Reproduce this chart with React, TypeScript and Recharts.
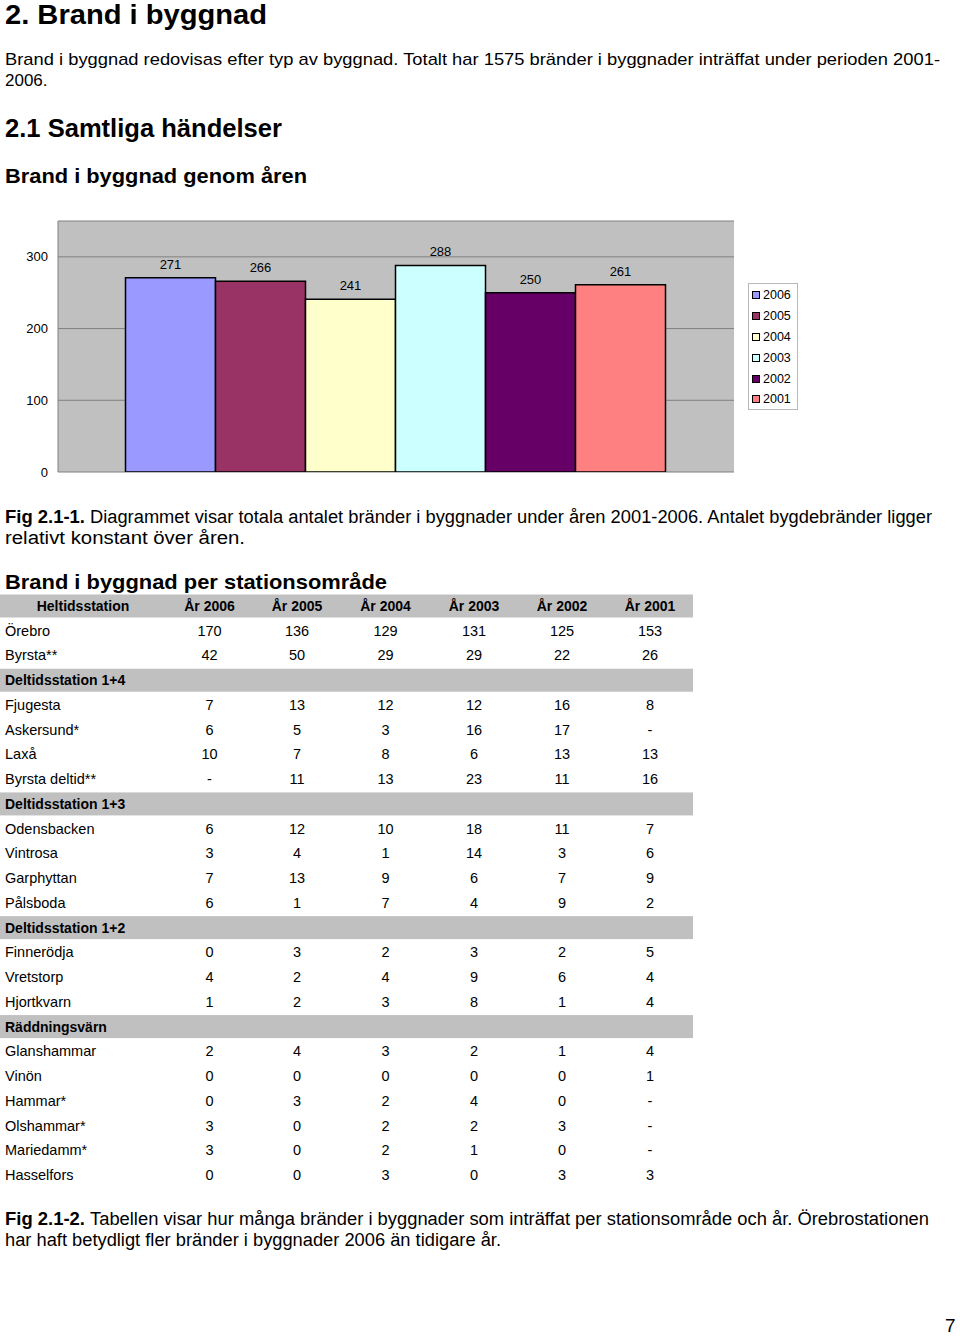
import React from 'react';
import { BarChart, Bar, XAxis, YAxis, CartesianGrid, LabelList, Legend } from 'recharts';

// ---------- chart data ----------
const years = ['2006', '2005', '2004', '2003', '2002', '2001'];
const totals = [271, 266, 241, 288, 250, 261];
const yTicks = [0, 100, 200, 300];
const yMax = 350;
const barColors = ['#9999ff', '#993366', '#ffffcc', '#ccffff', '#660066', '#ff8080'];

// ---------- table data ----------
const tableHeaders = ['Heltidsstation', 'År 2006', 'År 2005', 'År 2004', 'År 2003', 'År 2002', 'År 2001'];
const heltidStations = ['Örebro', 'Byrsta**'];
const heltidCounts = [
  ['170', '136', '129', '131', '125', '153'],
  ['42', '50', '29', '29', '22', '26'],
];
const deltid14Stations = ['Fjugesta', 'Askersund*', 'Laxå', 'Byrsta deltid**'];
const deltid14Counts = [
  ['7', '13', '12', '12', '16', '8'],
  ['6', '5', '3', '16', '17', '-'],
  ['10', '7', '8', '6', '13', '13'],
  ['-', '11', '13', '23', '11', '16'],
];
const deltid13Stations = ['Odensbacken', 'Vintrosa', 'Garphyttan', 'Pålsboda'];
const deltid13Counts = [
  ['6', '12', '10', '18', '11', '7'],
  ['3', '4', '1', '14', '3', '6'],
  ['7', '13', '9', '6', '7', '9'],
  ['6', '1', '7', '4', '9', '2'],
];
const deltid12Stations = ['Finnerödja', 'Vretstorp', 'Hjortkvarn'];
const deltid12Counts = [
  ['0', '3', '2', '3', '2', '5'],
  ['4', '2', '4', '9', '6', '4'],
  ['1', '2', '3', '8', '1', '4'],
];
const varnStations = ['Glanshammar', 'Vinön', 'Hammar*', 'Olshammar*', 'Mariedamm*', 'Hasselfors'];
const varnCounts = [
  ['2', '4', '3', '2', '1', '4'],
  ['0', '0', '0', '0', '0', '1'],
  ['0', '3', '2', '4', '0', '-'],
  ['3', '0', '2', '2', '3', '-'],
  ['3', '0', '2', '1', '0', '-'],
  ['0', '0', '3', '0', '3', '3'],
];
const groupTitles = ['Deltidsstation 1+4', 'Deltidsstation 1+3', 'Deltidsstation 1+2', 'Räddningsvärn'];

const FONT = '"Liberation Sans", Arial, Helvetica, sans-serif';

type Row = { kind: 'header' | 'group' | 'data'; label: string; values?: string[] };

function buildRows(): Row[] {
  const rows: Row[] = [{ kind: 'header', label: tableHeaders[0], values: tableHeaders.slice(1) }];
  heltidStations.forEach((n, i) => rows.push({ kind: 'data', label: n, values: heltidCounts[i] }));
  const groups: [string[], string[][]][] = [
    [deltid14Stations, deltid14Counts],
    [deltid13Stations, deltid13Counts],
    [deltid12Stations, deltid12Counts],
    [varnStations, varnCounts],
  ];
  groups.forEach(([names, counts], g) => {
    rows.push({ kind: 'group', label: groupTitles[g] });
    names.forEach((n, i) => rows.push({ kind: 'data', label: n, values: counts[i] }));
  });
  return rows;
}

const colCenters = [209.5, 297, 385.5, 474, 562, 650];

function LegendBox(props: any) {
  const payload = [...(props.payload || [])].sort(
    (a: any, b: any) => years.indexOf(a.value) - years.indexOf(b.value)
  );
  return (
    <div
      style={{
        boxSizing: 'border-box',
        width: 50,
        height: 127,
        border: '1px solid #b8b8b8',
        background: '#fff',
        paddingTop: 1,
        paddingLeft: 3,
        fontFamily: FONT,
        fontSize: 12.5,
        color: '#000',
      }}
    >
      {payload.map((p: any) => (
        <div key={p.value} style={{ height: 20.8, display: 'flex', alignItems: 'center' }}>
          <span
            style={{
              display: 'inline-block',
              width: 6,
              height: 6,
              border: '1px solid #000',
              background: p.color,
              marginRight: 3,
            }}
          />
          <span>{p.value}</span>
        </div>
      ))}
    </div>
  );
}

function Chart() {
  const row: Record<string, any> = { cat: '' };
  years.forEach((y, i) => {
    row['y' + y] = totals[i];
  });
  const data = [row];
  return (
    <BarChart
      width={810}
      height={290}
      data={data}
      margin={{ top: 21, right: 76, bottom: 18, left: 0 }}
      barCategoryGap={67.5}
      barGap={0}
    >
      <CartesianGrid vertical={false} fill="#c0c0c0" stroke="#808080" fillOpacity={1} />
      <XAxis dataKey="cat" tick={false} tickLine={false} height={0} axisLine={{ stroke: '#808080' }} />
      <XAxis
        xAxisId="top"
        dataKey="cat"
        orientation="top"
        tick={false}
        tickLine={false}
        height={0}
        axisLine={{ stroke: '#808080' }}
      />
      <YAxis
        domain={[0, yMax]}
        ticks={yTicks}
        width={58}
        tickLine={false}
        tickMargin={4}
        axisLine={{ stroke: '#808080' }}
        tick={{ fill: '#000', fontSize: 13, fontFamily: FONT }}
        allowDataOverflow
      />
      <YAxis
        yAxisId="right"
        orientation="right"
        domain={[0, yMax]}
        width={0}
        tick={false}
        tickLine={false}
        axisLine={{ stroke: '#808080' }}
      />
      <Legend
        layout="vertical"
        align="center"
        verticalAlign="middle"
        content={<LegendBox />}
        wrapperStyle={{ left: 748, top: 83, width: 50, height: 127 }}
      />
      {years.map((y, i) => (
        <Bar
          key={y}
          dataKey={'y' + y}
          name={y}
          fill={barColors[i]}
          stroke="#000"
          strokeWidth={1.5}
          isAnimationActive={false}
        >
          <LabelList
            dataKey={'y' + y}
            position="top"
            offset={9}
            style={{ fill: '#000', fontSize: 13, fontFamily: FONT }}
          />
        </Bar>
      ))}
    </BarChart>
  );
}

function T(props: {
  x: number;
  y: number;
  size: number;
  bold?: boolean;
  w?: number;
  anchor?: 'start' | 'middle' | 'end';
  children: React.ReactNode;
}) {
  const { x, y, size, bold, w, anchor, children } = props;
  const extra: any = {};
  if (w) {
    extra.textLength = w;
    extra.lengthAdjust = 'spacingAndGlyphs';
  }
  return (
    <text
      x={x}
      y={y}
      fontSize={size}
      fontWeight={bold ? 'bold' : 'normal'}
      fontFamily={FONT}
      textAnchor={anchor || 'start'}
      fill="#000"
      {...extra}
    >
      {children}
    </text>
  );
}

export default function App() {
  const rows = buildRows();
  const rowStart = 606;
  const rowStep = 24.74;
  return (
    <div style={{ position: 'absolute', left: 0, top: 0, width: 960, height: 1336, background: '#fff' }}>
      <svg width={960} height={1336} style={{ position: 'absolute', left: 0, top: 0 }}>
        <T x={5} y={23.5} size={28} bold w={262}>2. Brand i byggnad</T>
        <T x={5} y={65} size={17} w={935}>
          Brand i byggnad redovisas efter typ av byggnad. Totalt har 1575 bränder i byggnader inträffat under perioden 2001-
        </T>
        <T x={5} y={86} size={17}>2006.</T>
        <T x={5} y={136.5} size={26} bold w={277}>2.1 Samtliga händelser</T>
        <T x={5} y={183} size={21} bold w={302}>Brand i byggnad genom åren</T>

        <T x={5} y={523} size={18} bold w={80}>Fig 2.1-1.</T>
        <T x={90} y={523} size={18} w={842}>
          Diagrammet visar totala antalet bränder i byggnader under åren 2001-2006. Antalet bygdebränder ligger
        </T>
        <T x={5} y={544} size={18} w={240}>relativt konstant över åren.</T>

        <T x={5} y={589} size={21} bold w={382}>Brand i byggnad per stationsområde</T>

        {rows.map((r, i) => {
          const cy = rowStart + i * rowStep;
          const by = cy + 5;
          if (r.kind === 'header') {
            return (
              <g key={i}>
                <rect x={0} y={cy - 11.5} width={693} height={23} fill="#c0c0c0" />
                <T x={83} y={by} size={14} bold anchor="middle">{r.label}</T>
                {r.values!.map((v, j) => (
                  <T key={j} x={colCenters[j]} y={by} size={14} bold anchor="middle">{v}</T>
                ))}
              </g>
            );
          }
          if (r.kind === 'group') {
            return (
              <g key={i}>
                <rect x={0} y={cy - 11.5} width={693} height={23} fill="#c0c0c0" />
                <T x={5} y={by} size={14} bold>{r.label}</T>
              </g>
            );
          }
          return (
            <g key={i}>
              <T x={5} y={by} size={14.5}>{r.label}</T>
              {r.values!.map((v, j) => (
                <T key={j} x={colCenters[j]} y={by} size={14.5} anchor="middle">{v}</T>
              ))}
            </g>
          );
        })}

        <T x={5} y={1225} size={18} bold w={80}>Fig 2.1-2.</T>
        <T x={90} y={1225} size={18} w={839}>
          Tabellen visar hur många bränder i byggnader som inträffat per stationsområde och år. Örebrostationen
        </T>
        <T x={5} y={1246} size={18} w={496}>har haft betydligt fler bränder i byggnader 2006 än tidigare år.</T>

        <T x={945} y={1332} size={19}>7</T>
      </svg>
      <div style={{ position: 'absolute', left: 0, top: 200 }}>
        <Chart />
      </div>
    </div>
  );
}
